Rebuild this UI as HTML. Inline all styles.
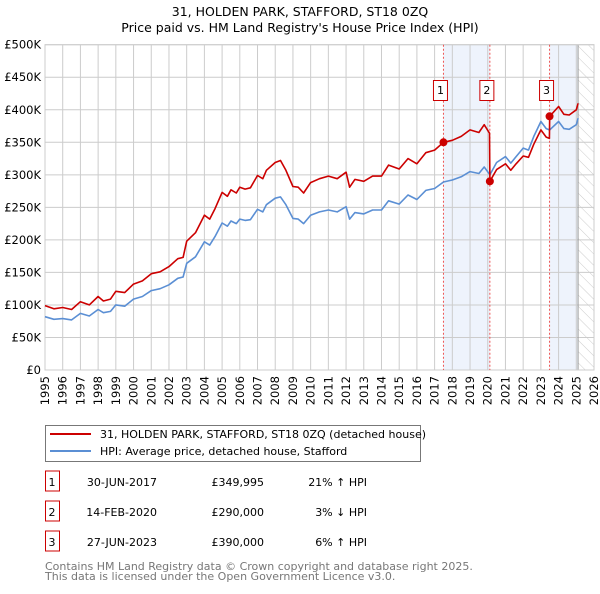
<!DOCTYPE html>
<html><head><meta charset="utf-8"><style>
body{margin:0;background:#fff;font-family:"DejaVu Sans","Liberation Sans",sans-serif}
svg text{font-family:"DejaVu Sans","Liberation Sans",sans-serif}
</style></head><body>
<svg id="c" width="600" height="590" xmlns="http://www.w3.org/2000/svg">
<defs><pattern id="hatch" width="8" height="8" patternUnits="userSpaceOnUse" patternTransform="rotate(-45)"><line x1="0" y1="0" x2="0" y2="8" stroke="#ccc" stroke-width="1"/></pattern></defs>
<text x="300" y="16" text-anchor="middle" font-size="12.5">31, HOLDEN PARK, STAFFORD, ST18 0ZQ</text>
<text x="300" y="32" text-anchor="middle" font-size="12.5">Price paid vs. HM Land Registry's House Price Index (HPI)</text>
<g id="plot"></g>
<g>
<rect x="45.5" y="425.5" width="375" height="36" fill="#fff" stroke="#777"/>
<line x1="50" y1="434" x2="91" y2="434" stroke="#cc0000" stroke-width="2"/>
<text x="100" y="438" font-size="11">31, HOLDEN PARK, STAFFORD, ST18 0ZQ (detached house)</text>
<line x1="50" y1="451" x2="91" y2="451" stroke="#5b8fd4" stroke-width="2"/>
<text x="100" y="455" font-size="11">HPI: Average price, detached house, Stafford</text>
</g>
<g id="tbl" font-size="11"></g>
<text x="45" y="570" font-size="11" fill="#777">Contains HM Land Registry data © Crown copyright and database right 2025.</text>
<text x="45" y="580" font-size="11" fill="#777">This data is licensed under the Open Government Licence v3.0.</text>
</svg>
<script>
const dates=[1995.0,1995.5,1996.0,1996.5,1997.0,1997.5,1998.0,1998.3,1998.7,1999.0,1999.5,2000.0,2000.5,2001.0,2001.5,2002.0,2002.5,2002.8,2003.0,2003.5,2004.0,2004.3,2004.6,2005.0,2005.3,2005.5,2005.8,2006.0,2006.3,2006.6,2007.0,2007.3,2007.5,2008.0,2008.3,2008.6,2009.0,2009.3,2009.6,2010.0,2010.5,2011.0,2011.5,2012.0,2012.2,2012.5,2013.0,2013.5,2014.0,2014.4,2015.0,2015.5,2016.0,2016.5,2017.0,2017.5,2018.0,2018.5,2019.0,2019.5,2019.8,2020.1,2020.12,2020.5,2021.0,2021.3,2021.6,2022.0,2022.3,2022.6,2023.0,2023.3,2023.48,2023.5,2024.0,2024.3,2024.6,2025.0,2025.1];
const hpi=[82,78,79,77,87,83,93,88,90,100,98,109,113,122,125,131,141,143,164,174,197,192,205,226,221,229,225,232,230,231,247,243,254,264,266,254,233,232,225,238,243,246,243,251,232,242,240,246,246,260,255,269,262,276,279,289,292,297,305,302,312,301,300,319,328,318,328,341,338,359,382,371,369,369,382,371,370,377,387];
const prop=[99,94,96,93,105,100,113,106,109,121,119,132,137,148,151,159,171,173,198,211,238,232,248,273,267,277,272,281,278,280,299,294,307,319,322,307,282,281,272,288,294,298,294,304,281,293,290,298,298,315,309,325,317,334,338,350,353,359,369,365,377,364,290,308,317,307,317,329,327,347,369,358,356,390,405,393,392,400,410];
const saleDates=[2017.5,2020.12,2023.49];
const salePrices=[349.995,290,390];
const saleLabels=["1","2","3"];
const saleDateText=["30-JUN-2017","14-FEB-2020","27-JUN-2023"];
const salePriceText=["£349,995","£290,000","£390,000"];
const saleHpiText=["21% ↑ HPI","3% ↓ HPI","6% ↑ HPI"];
const yTicks=[0,50,100,150,200,250,300,350,400,450,500];
const yTickLabels=["£0","£50K","£100K","£150K","£200K","£250K","£300K","£350K","£400K","£450K","£500K"];
const xTicks=[1995,1996,1997,1998,1999,2000,2001,2002,2003,2004,2005,2006,2007,2008,2009,2010,2011,2012,2013,2014,2015,2016,2017,2018,2019,2020,2021,2022,2023,2024,2025,2026];
const L=45,R=594,T=44.7,B=370;
const X=d=>L+(d-1995)/(2026-1995)*(R-L);
const Y=v=>B-v/500*(B-T);
const NS="http://www.w3.org/2000/svg";
const g=document.getElementById('plot');
function mk(tag,attrs,parent){const e=document.createElementNS(NS,tag);for(const k in attrs)e.setAttribute(k,attrs[k]);(parent||g).appendChild(e);return e;}
let e=mk('rect',{x:X(saleDates[0]),y:T,width:X(saleDates[1])-X(saleDates[0]),height:B-T,fill:'#eef3fc'});


e=mk('rect',{x:X(saleDates[2]),y:T,width:X(2025.1)-X(saleDates[2]),height:B-T,fill:'#eef3fc'});


e=mk('rect',{x:X(2025.1),y:T,width:R-X(2025.1),height:B-T,fill:'url(#hatch)'});


yTicks.forEach((v,i)=>{
 let l=mk('line',{x1:L,x2:R,y1:Y(v),y2:Y(v),stroke:'#ccc'});
 
 
 let t=mk('text',{x:L-4,y:Y(v)+4,'text-anchor':'end','font-size':'11.5'});t.textContent=yTickLabels[i];
 
 
});
xTicks.forEach(d=>{
 let l=mk('line',{x1:X(d),x2:X(d),y1:T,y2:B,stroke:'#ccc'});
 
 
 let t=mk('text',{x:0,y:0,'text-anchor':'end','font-size':'11.5',transform:`translate(${X(d)+4},${B+6}) rotate(-90)`});t.textContent=d;
 
 
});
mk('line',{x1:X(2025.1),x2:X(2025.1),y1:T,y2:B,stroke:'#999'});
mk('rect',{x:L,y:T,width:R-L,height:B-T,fill:'none',stroke:'#ccc'});
saleDates.forEach((d,i)=>{
 let l=mk('line',{x1:X(d),x2:X(d),y1:T,y2:B,stroke:'#ee5555','stroke-dasharray':'2,2'});
 
 
 let r=mk('rect',{x:X(d)-10,y:80.5,width:14,height:20,fill:'#fff',stroke:'#cc0000'});
 
 
 let t=mk('text',{x:X(d)-3,y:94,'text-anchor':'middle','font-size':'11'});t.textContent=saleLabels[i];
 
 
});
const pts=(arr)=>dates.map((d,i)=>X(d).toFixed(1)+','+Y(arr[i]).toFixed(1)).join(' ');
e=mk('polyline',{points:pts(hpi),fill:'none',stroke:'#5b8fd4','stroke-width':1.6,'stroke-linejoin':'round'});


e=mk('polyline',{points:pts(prop),fill:'none',stroke:'#cc0000','stroke-width':1.6,'stroke-linejoin':'round'});


saleDates.forEach((d,i)=>{
 let c=mk('circle',{cx:X(d),cy:Y(salePrices[i]),r:4,fill:'#cc0000'});
 
 
});
const tb=document.getElementById('tbl');
saleLabels.forEach((s,i)=>{
 const y=483+i*30;
 let r=mk('rect',{x:45.5,y:y-12,width:14,height:20,fill:'#fff',stroke:'#cc0000'},tb);
 
 
 const cells=[[52,s,'middle'],[157,saleDateText[i],'end'],[264,salePriceText[i],'end'],[367,saleHpiText[i],'end']];
 cells.forEach(([x,txt,a])=>{let t=mk('text',{x:x,y:y+3,'text-anchor':a},tb);t.textContent=txt;
  
  });
});
</script>
</body></html>
